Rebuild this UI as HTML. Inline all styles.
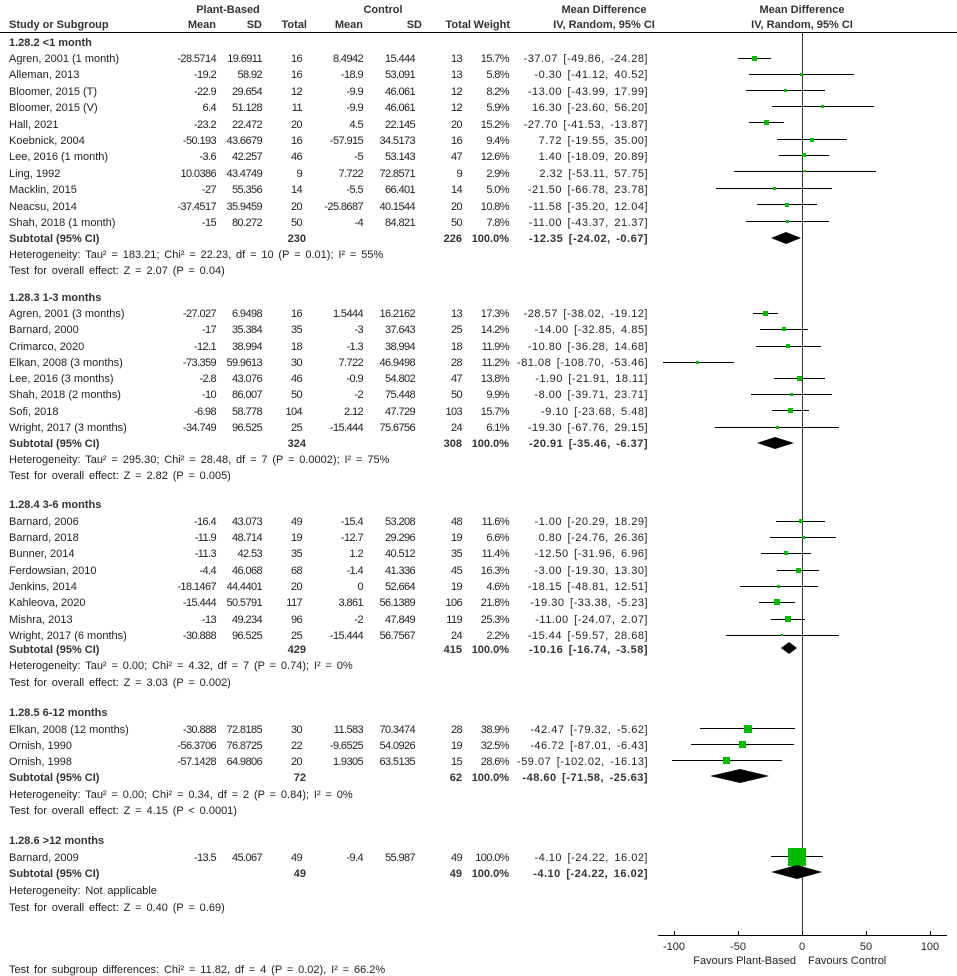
<!DOCTYPE html>
<html><head><meta charset="utf-8"><style>
html,body{margin:0;padding:0;background:#fff}
svg{display:block}
text{font-family:"Liberation Sans",Arial,sans-serif;font-size:11px;fill:#222}
.b{font-weight:bold;fill:#333}
.e{text-anchor:end}
.m{text-anchor:middle}
.h{word-spacing:1.8px}
g.d text.e{font-size:11px;letter-spacing:-0.6px}
g.d text.c,.c{letter-spacing:0.5px;word-spacing:2px;font-size:11px}
.sq{fill:#00bb00}
.l{stroke:#000;stroke-width:1}
</style></head><body>
<svg width="957" height="976" viewBox="0 0 957 976" xmlns="http://www.w3.org/2000/svg">
<text class="b m" x="228" y="13">Plant-Based</text>
<text class="b m" x="383" y="13">Control</text>
<text class="b m" x="604" y="13">Mean Difference</text>
<text class="b m" x="802" y="13">Mean Difference</text>
<text class="b" x="9" y="28">Study or Subgroup</text>
<text class="b e" x="216" y="28">Mean</text>
<text class="b e" x="262" y="28">SD</text>
<text class="b e" x="307" y="28">Total</text>
<text class="b e" x="363" y="28">Mean</text>
<text class="b e" x="422" y="28">SD</text>
<text class="b e" x="471" y="28">Total</text>
<text class="b e" x="510" y="28">Weight</text>
<text class="b m" x="604" y="28">IV, Random, 95% CI</text>
<text class="b m" x="802" y="28">IV, Random, 95% CI</text>
<line class="l" x1="0" y1="32.5" x2="957" y2="32.5"/>
<line x1="802.5" y1="32" x2="802.5" y2="935" stroke="#333" stroke-width="1"/>

<text class="b" x="9" y="46">1.28.2 &lt;1 month</text>
<g class="d">
<text x="9" y="62">Agren, 2001 (1 month)</text><text class="e" x="216" y="62">-28.5714</text><text class="e" x="262" y="62">19.6911</text><text class="e" x="302" y="62">16</text><text class="e" x="363" y="62">8.4942</text><text class="e" x="415" y="62">15.444</text><text class="e" x="462" y="62">13</text><text class="e" x="509" y="62">15.7%</text><text class="e c" x="648" y="62">-37.07 [-49.86, -24.28]</text>
<text x="9" y="78">Alleman, 2013</text><text class="e" x="216" y="78">-19.2</text><text class="e" x="262" y="78">58.92</text><text class="e" x="302" y="78">16</text><text class="e" x="363" y="78">-18.9</text><text class="e" x="415" y="78">53.091</text><text class="e" x="462" y="78">13</text><text class="e" x="509" y="78">5.8%</text><text class="e c" x="648" y="78">-0.30 [-41.12, 40.52]</text>
<text x="9" y="95">Bloomer, 2015 (T)</text><text class="e" x="216" y="95">-22.9</text><text class="e" x="262" y="95">29.654</text><text class="e" x="302" y="95">12</text><text class="e" x="363" y="95">-9.9</text><text class="e" x="415" y="95">46.061</text><text class="e" x="462" y="95">12</text><text class="e" x="509" y="95">8.2%</text><text class="e c" x="648" y="95">-13.00 [-43.99, 17.99]</text>
<text x="9" y="111">Bloomer, 2015 (V)</text><text class="e" x="216" y="111">6.4</text><text class="e" x="262" y="111">51.128</text><text class="e" x="302" y="111">11</text><text class="e" x="363" y="111">-9.9</text><text class="e" x="415" y="111">46.061</text><text class="e" x="462" y="111">12</text><text class="e" x="509" y="111">5.9%</text><text class="e c" x="648" y="111">16.30 [-23.60, 56.20]</text>
<text x="9" y="128">Hall, 2021</text><text class="e" x="216" y="128">-23.2</text><text class="e" x="262" y="128">22.472</text><text class="e" x="302" y="128">20</text><text class="e" x="363" y="128">4.5</text><text class="e" x="415" y="128">22.145</text><text class="e" x="462" y="128">20</text><text class="e" x="509" y="128">15.2%</text><text class="e c" x="648" y="128">-27.70 [-41.53, -13.87]</text>
<text x="9" y="144">Koebnick, 2004</text><text class="e" x="216" y="144">-50.193</text><text class="e" x="262" y="144">43.6679</text><text class="e" x="302" y="144">16</text><text class="e" x="363" y="144">-57.915</text><text class="e" x="415" y="144">34.5173</text><text class="e" x="462" y="144">16</text><text class="e" x="509" y="144">9.4%</text><text class="e c" x="648" y="144">7.72 [-19.55, 35.00]</text>
<text x="9" y="160">Lee, 2016 (1 month)</text><text class="e" x="216" y="160">-3.6</text><text class="e" x="262" y="160">42.257</text><text class="e" x="302" y="160">46</text><text class="e" x="363" y="160">-5</text><text class="e" x="415" y="160">53.143</text><text class="e" x="462" y="160">47</text><text class="e" x="509" y="160">12.6%</text><text class="e c" x="648" y="160">1.40 [-18.09, 20.89]</text>
<text x="9" y="177">Ling, 1992</text><text class="e" x="216" y="177">10.0386</text><text class="e" x="262" y="177">43.4749</text><text class="e" x="302" y="177">9</text><text class="e" x="363" y="177">7.722</text><text class="e" x="415" y="177">72.8571</text><text class="e" x="462" y="177">9</text><text class="e" x="509" y="177">2.9%</text><text class="e c" x="648" y="177">2.32 [-53.11, 57.75]</text>
<text x="9" y="193">Macklin, 2015</text><text class="e" x="216" y="193">-27</text><text class="e" x="262" y="193">55.356</text><text class="e" x="302" y="193">14</text><text class="e" x="363" y="193">-5.5</text><text class="e" x="415" y="193">66.401</text><text class="e" x="462" y="193">14</text><text class="e" x="509" y="193">5.0%</text><text class="e c" x="648" y="193">-21.50 [-66.78, 23.78]</text>
<text x="9" y="210">Neacsu, 2014</text><text class="e" x="216" y="210">-37.4517</text><text class="e" x="262" y="210">35.9459</text><text class="e" x="302" y="210">20</text><text class="e" x="363" y="210">-25.8687</text><text class="e" x="415" y="210">40.1544</text><text class="e" x="462" y="210">20</text><text class="e" x="509" y="210">10.8%</text><text class="e c" x="648" y="210">-11.58 [-35.20, 12.04]</text>
<text x="9" y="226">Shah, 2018 (1 month)</text><text class="e" x="216" y="226">-15</text><text class="e" x="262" y="226">80.272</text><text class="e" x="302" y="226">50</text><text class="e" x="363" y="226">-4</text><text class="e" x="415" y="226">84.821</text><text class="e" x="462" y="226">50</text><text class="e" x="509" y="226">7.8%</text><text class="e c" x="648" y="226">-11.00 [-43.37, 21.37]</text>
</g>
<text class="b" x="9" y="242">Subtotal (95% CI)</text><text class="b e" x="306" y="242">230</text><text class="b e" x="462" y="242">226</text><text class="b e" x="509" y="242">100.0%</text><text class="b e c" x="648" y="242">-12.35 [-24.02, -0.67]</text>
<text class="h" x="9" y="258">Heterogeneity: Tau² = 183.21; Chi² = 22.23, df = 10 (P = 0.01); I² = 55%</text>
<text class="h" x="9" y="274">Test for overall effect: Z = 2.07 (P = 0.04)</text>
<g>
<line class="l" x1="738" y1="58.5" x2="771" y2="58.5"/><rect class="sq" x="752" y="56" width="5" height="5"/>
<line class="l" x1="749" y1="74.5" x2="854" y2="74.5"/><rect class="sq" x="800" y="73" width="3" height="3"/>
<line class="l" x1="746" y1="90.5" x2="825" y2="90.5"/><rect class="sq" x="784" y="89" width="3" height="3"/>
<line class="l" x1="772" y1="106.5" x2="874" y2="106.5"/><rect class="sq" x="821" y="105" width="3" height="3"/>
<line class="l" x1="749" y1="122.5" x2="784" y2="122.5"/><rect class="sq" x="764" y="120" width="5" height="5"/>
<line class="l" x1="777" y1="139.5" x2="847" y2="139.5"/><rect class="sq" x="810" y="138" width="4" height="4"/>
<line class="l" x1="779" y1="155.5" x2="829" y2="155.5"/><rect class="sq" x="802" y="153" width="4" height="4"/>
<line class="l" x1="734" y1="171.5" x2="876" y2="171.5"/><rect class="sq" x="804" y="170" width="2" height="2"/>
<line class="l" x1="716" y1="188.5" x2="832" y2="188.5"/><rect class="sq" x="773" y="187" width="3" height="3"/>
<line class="l" x1="757" y1="204.5" x2="817" y2="204.5"/><rect class="sq" x="785" y="203" width="4" height="4"/>
<line class="l" x1="746" y1="221.5" x2="829" y2="221.5"/><rect class="sq" x="786" y="220" width="3" height="3"/>
<polygon points="771,238 786,232 801,238 786,244" fill="#000"/>
</g>

<text class="b" x="9" y="301">1.28.3 1-3 months</text>
<g class="d">
<text x="9" y="317">Agren, 2001 (3 months)</text><text class="e" x="216" y="317">-27.027</text><text class="e" x="262" y="317">6.9498</text><text class="e" x="302" y="317">16</text><text class="e" x="363" y="317">1.5444</text><text class="e" x="415" y="317">16.2162</text><text class="e" x="462" y="317">13</text><text class="e" x="509" y="317">17.3%</text><text class="e c" x="648" y="317">-28.57 [-38.02, -19.12]</text>
<text x="9" y="333">Barnard, 2000</text><text class="e" x="216" y="333">-17</text><text class="e" x="262" y="333">35.384</text><text class="e" x="302" y="333">35</text><text class="e" x="363" y="333">-3</text><text class="e" x="415" y="333">37.643</text><text class="e" x="462" y="333">25</text><text class="e" x="509" y="333">14.2%</text><text class="e c" x="648" y="333">-14.00 [-32.85, 4.85]</text>
<text x="9" y="350">Crimarco, 2020</text><text class="e" x="216" y="350">-12.1</text><text class="e" x="262" y="350">38.994</text><text class="e" x="302" y="350">18</text><text class="e" x="363" y="350">-1.3</text><text class="e" x="415" y="350">38.994</text><text class="e" x="462" y="350">18</text><text class="e" x="509" y="350">11.9%</text><text class="e c" x="648" y="350">-10.80 [-36.28, 14.68]</text>
<text x="9" y="366">Elkan, 2008 (3 months)</text><text class="e" x="216" y="366">-73.359</text><text class="e" x="262" y="366">59.9613</text><text class="e" x="302" y="366">30</text><text class="e" x="363" y="366">7.722</text><text class="e" x="415" y="366">46.9498</text><text class="e" x="462" y="366">28</text><text class="e" x="509" y="366">11.2%</text><text class="e c" x="648" y="366">-81.08 [-108.70, -53.46]</text>
<text x="9" y="382">Lee, 2016 (3 months)</text><text class="e" x="216" y="382">-2.8</text><text class="e" x="262" y="382">43.076</text><text class="e" x="302" y="382">46</text><text class="e" x="363" y="382">-0.9</text><text class="e" x="415" y="382">54.802</text><text class="e" x="462" y="382">47</text><text class="e" x="509" y="382">13.8%</text><text class="e c" x="648" y="382">-1.90 [-21.91, 18.11]</text>
<text x="9" y="398">Shah, 2018 (2 months)</text><text class="e" x="216" y="398">-10</text><text class="e" x="262" y="398">86.007</text><text class="e" x="302" y="398">50</text><text class="e" x="363" y="398">-2</text><text class="e" x="415" y="398">75.448</text><text class="e" x="462" y="398">50</text><text class="e" x="509" y="398">9.9%</text><text class="e c" x="648" y="398">-8.00 [-39.71, 23.71]</text>
<text x="9" y="415">Sofi, 2018</text><text class="e" x="216" y="415">-6.98</text><text class="e" x="262" y="415">58.778</text><text class="e" x="302" y="415">104</text><text class="e" x="363" y="415">2.12</text><text class="e" x="415" y="415">47.729</text><text class="e" x="462" y="415">103</text><text class="e" x="509" y="415">15.7%</text><text class="e c" x="648" y="415">-9.10 [-23.68, 5.48]</text>
<text x="9" y="431">Wright, 2017 (3 months)</text><text class="e" x="216" y="431">-34.749</text><text class="e" x="262" y="431">96.525</text><text class="e" x="302" y="431">25</text><text class="e" x="363" y="431">-15.444</text><text class="e" x="415" y="431">75.6756</text><text class="e" x="462" y="431">24</text><text class="e" x="509" y="431">6.1%</text><text class="e c" x="648" y="431">-19.30 [-67.76, 29.15]</text>
</g>
<text class="b" x="9" y="447">Subtotal (95% CI)</text><text class="b e" x="306" y="447">324</text><text class="b e" x="462" y="447">308</text><text class="b e" x="509" y="447">100.0%</text><text class="b e c" x="648" y="447">-20.91 [-35.46, -6.37]</text>
<text class="h" x="9" y="463">Heterogeneity: Tau² = 295.30; Chi² = 28.48, df = 7 (P = 0.0002); I² = 75%</text>
<text class="h" x="9" y="479">Test for overall effect: Z = 2.82 (P = 0.005)</text>
<g>
<line class="l" x1="753" y1="313.5" x2="778" y2="313.5"/><rect class="sq" x="763" y="311" width="5" height="5"/>
<line class="l" x1="760" y1="329.5" x2="808" y2="329.5"/><rect class="sq" x="782" y="327" width="4" height="4"/>
<line class="l" x1="756" y1="346.5" x2="821" y2="346.5"/><rect class="sq" x="786" y="344" width="4" height="4"/>
<line class="l" x1="663" y1="362.5" x2="734" y2="362.5"/><rect class="sq" x="696" y="361" width="3" height="3"/>
<line class="l" x1="774" y1="378.5" x2="825" y2="378.5"/><rect class="sq" x="797" y="376" width="5" height="5"/>
<line class="l" x1="751" y1="394.5" x2="832" y2="394.5"/><rect class="sq" x="790" y="393" width="3" height="3"/>
<line class="l" x1="772" y1="410.5" x2="809" y2="410.5"/><rect class="sq" x="788" y="408" width="5" height="5"/>
<line class="l" x1="715" y1="427.5" x2="839" y2="427.5"/><rect class="sq" x="776" y="426" width="3" height="3"/>
<polygon points="757,443 775,437 794,443 775,449" fill="#000"/>
</g>

<text class="b" x="9" y="508">1.28.4 3-6 months</text>
<g class="d">
<text x="9" y="525">Barnard, 2006</text><text class="e" x="216" y="525">-16.4</text><text class="e" x="262" y="525">43.073</text><text class="e" x="302" y="525">49</text><text class="e" x="363" y="525">-15.4</text><text class="e" x="415" y="525">53.208</text><text class="e" x="462" y="525">48</text><text class="e" x="509" y="525">11.6%</text><text class="e c" x="648" y="525">-1.00 [-20.29, 18.29]</text>
<text x="9" y="541">Barnard, 2018</text><text class="e" x="216" y="541">-11.9</text><text class="e" x="262" y="541">48.714</text><text class="e" x="302" y="541">19</text><text class="e" x="363" y="541">-12.7</text><text class="e" x="415" y="541">29.296</text><text class="e" x="462" y="541">19</text><text class="e" x="509" y="541">6.6%</text><text class="e c" x="648" y="541">0.80 [-24.76, 26.36]</text>
<text x="9" y="557">Bunner, 2014</text><text class="e" x="216" y="557">-11.3</text><text class="e" x="262" y="557">42.53</text><text class="e" x="302" y="557">35</text><text class="e" x="363" y="557">1.2</text><text class="e" x="415" y="557">40.512</text><text class="e" x="462" y="557">35</text><text class="e" x="509" y="557">11.4%</text><text class="e c" x="648" y="557">-12.50 [-31.96, 6.96]</text>
<text x="9" y="574">Ferdowsian, 2010</text><text class="e" x="216" y="574">-4.4</text><text class="e" x="262" y="574">46.068</text><text class="e" x="302" y="574">68</text><text class="e" x="363" y="574">-1.4</text><text class="e" x="415" y="574">41.336</text><text class="e" x="462" y="574">45</text><text class="e" x="509" y="574">16.3%</text><text class="e c" x="648" y="574">-3.00 [-19.30, 13.30]</text>
<text x="9" y="590">Jenkins, 2014</text><text class="e" x="216" y="590">-18.1467</text><text class="e" x="262" y="590">44.4401</text><text class="e" x="302" y="590">20</text><text class="e" x="363" y="590">0</text><text class="e" x="415" y="590">52.664</text><text class="e" x="462" y="590">19</text><text class="e" x="509" y="590">4.6%</text><text class="e c" x="648" y="590">-18.15 [-48.81, 12.51]</text>
<text x="9" y="606">Kahleova, 2020</text><text class="e" x="216" y="606">-15.444</text><text class="e" x="262" y="606">50.5791</text><text class="e" x="302" y="606">117</text><text class="e" x="363" y="606">3.861</text><text class="e" x="415" y="606">56.1389</text><text class="e" x="462" y="606">106</text><text class="e" x="509" y="606">21.8%</text><text class="e c" x="648" y="606">-19.30 [-33.38, -5.23]</text>
<text x="9" y="623">Mishra, 2013</text><text class="e" x="216" y="623">-13</text><text class="e" x="262" y="623">49.234</text><text class="e" x="302" y="623">96</text><text class="e" x="363" y="623">-2</text><text class="e" x="415" y="623">47.849</text><text class="e" x="462" y="623">119</text><text class="e" x="509" y="623">25.3%</text><text class="e c" x="648" y="623">-11.00 [-24.07, 2.07]</text>
<text x="9" y="639">Wright, 2017 (6 months)</text><text class="e" x="216" y="639">-30.888</text><text class="e" x="262" y="639">96.525</text><text class="e" x="302" y="639">25</text><text class="e" x="363" y="639">-15.444</text><text class="e" x="415" y="639">56.7567</text><text class="e" x="462" y="639">24</text><text class="e" x="509" y="639">2.2%</text><text class="e c" x="648" y="639">-15.44 [-59.57, 28.68]</text>
</g>
<text class="b" x="9" y="653">Subtotal (95% CI)</text><text class="b e" x="306" y="653">429</text><text class="b e" x="462" y="653">415</text><text class="b e" x="509" y="653">100.0%</text><text class="b e c" x="648" y="653">-10.16 [-16.74, -3.58]</text>
<text class="h" x="9" y="669">Heterogeneity: Tau² = 0.00; Chi² = 4.32, df = 7 (P = 0.74); I² = 0%</text>
<text class="h" x="9" y="686">Test for overall effect: Z = 3.03 (P = 0.002)</text>
<g>
<line class="l" x1="776" y1="521.5" x2="825" y2="521.5"/><rect class="sq" x="799" y="519" width="4" height="4"/>
<line class="l" x1="770" y1="537.5" x2="836" y2="537.5"/><rect class="sq" x="802" y="536" width="3" height="3"/>
<line class="l" x1="761" y1="553.5" x2="811" y2="553.5"/><rect class="sq" x="784" y="551" width="4" height="4"/>
<line class="l" x1="777" y1="570.5" x2="819" y2="570.5"/><rect class="sq" x="796" y="568" width="5" height="5"/>
<line class="l" x1="740" y1="586.5" x2="818" y2="586.5"/><rect class="sq" x="777" y="585" width="3" height="3"/>
<line class="l" x1="759" y1="602.5" x2="795" y2="602.5"/><rect class="sq" x="774" y="599" width="6" height="6"/>
<line class="l" x1="771" y1="619.5" x2="805" y2="619.5"/><rect class="sq" x="785" y="616" width="6" height="6"/>
<line class="l" x1="726" y1="635.5" x2="839" y2="635.5"/><rect class="sq" x="781" y="634" width="2" height="2"/>
<polygon points="781,648 789,642 797,648 789,654" fill="#000"/>
</g>

<text class="b" x="9" y="716">1.28.5 6-12 months</text>
<g class="d">
<text x="9" y="733">Elkan, 2008 (12 months)</text><text class="e" x="216" y="733">-30.888</text><text class="e" x="262" y="733">72.8185</text><text class="e" x="302" y="733">30</text><text class="e" x="363" y="733">11.583</text><text class="e" x="415" y="733">70.3474</text><text class="e" x="462" y="733">28</text><text class="e" x="509" y="733">38.9%</text><text class="e c" x="648" y="733">-42.47 [-79.32, -5.62]</text>
<text x="9" y="749">Ornish, 1990</text><text class="e" x="216" y="749">-56.3706</text><text class="e" x="262" y="749">76.8725</text><text class="e" x="302" y="749">22</text><text class="e" x="363" y="749">-9.6525</text><text class="e" x="415" y="749">54.0926</text><text class="e" x="462" y="749">19</text><text class="e" x="509" y="749">32.5%</text><text class="e c" x="648" y="749">-46.72 [-87.01, -6.43]</text>
<text x="9" y="765">Ornish, 1998</text><text class="e" x="216" y="765">-57.1428</text><text class="e" x="262" y="765">64.9806</text><text class="e" x="302" y="765">20</text><text class="e" x="363" y="765">1.9305</text><text class="e" x="415" y="765">63.5135</text><text class="e" x="462" y="765">15</text><text class="e" x="509" y="765">28.6%</text><text class="e c" x="648" y="765">-59.07 [-102.02, -16.13]</text>
</g>
<text class="b" x="9" y="781">Subtotal (95% CI)</text><text class="b e" x="306" y="781">72</text><text class="b e" x="462" y="781">62</text><text class="b e" x="509" y="781">100.0%</text><text class="b e c" x="648" y="781">-48.60 [-71.58, -25.63]</text>
<text class="h" x="9" y="798">Heterogeneity: Tau² = 0.00; Chi² = 0.34, df = 2 (P = 0.84); I² = 0%</text>
<text class="h" x="9" y="814">Test for overall effect: Z = 4.15 (P &lt; 0.0001)</text>
<g>
<line class="l" x1="700" y1="728.5" x2="795" y2="728.5"/><rect class="sq" x="744" y="725" width="8" height="8"/>
<line class="l" x1="691" y1="744.5" x2="794" y2="744.5"/><rect class="sq" x="739" y="741" width="7" height="7"/>
<line class="l" x1="672" y1="760.5" x2="782" y2="760.5"/><rect class="sq" x="723" y="757" width="7" height="7"/>
<polygon points="710,776 740,769 769,776 740,783" fill="#000"/>
</g>

<text class="b" x="9" y="844">1.28.6 &gt;12 months</text>
<g class="d">
<text x="9" y="861">Barnard, 2009</text><text class="e" x="216" y="861">-13.5</text><text class="e" x="262" y="861">45.067</text><text class="e" x="302" y="861">49</text><text class="e" x="363" y="861">-9.4</text><text class="e" x="415" y="861">55.987</text><text class="e" x="462" y="861">49</text><text class="e" x="509" y="861">100.0%</text><text class="e c" x="648" y="861">-4.10 [-24.22, 16.02]</text>
</g>
<text class="b" x="9" y="877">Subtotal (95% CI)</text><text class="b e" x="306" y="877">49</text><text class="b e" x="462" y="877">49</text><text class="b e" x="509" y="877">100.0%</text><text class="b e c" x="648" y="877">-4.10 [-24.22, 16.02]</text>
<text class="h" x="9" y="894">Heterogeneity: Not applicable</text>
<text class="h" x="9" y="911">Test for overall effect: Z = 0.40 (P = 0.69)</text>
<line class="l" x1="771" y1="856.5" x2="823" y2="856.5"/><rect class="sq" x="788" y="848" width="18" height="18"/>
<polygon points="771,872 797,865 822,872 797,879" fill="#000"/>

<line class="l" x1="658" y1="935.5" x2="947" y2="935.5"/>
<line class="l" x1="674.5" y1="931" x2="674.5" y2="936"/>
<line class="l" x1="738.5" y1="931" x2="738.5" y2="936"/>
<line class="l" x1="802.5" y1="931" x2="802.5" y2="936"/>
<line class="l" x1="866.5" y1="931" x2="866.5" y2="936"/>
<line class="l" x1="930.5" y1="931" x2="930.5" y2="936"/>
<text class="m" x="674" y="950">-100</text>
<text class="m" x="738" y="950">-50</text>
<text class="m" x="802" y="950">0</text>
<text class="m" x="866" y="950">50</text>
<text class="m" x="930" y="950">100</text>
<text class="e" x="796" y="964">Favours Plant-Based</text>
<text x="808" y="964">Favours Control</text>

<text class="h" x="9" y="973">Test for subgroup differences: Chi² = 11.82, df = 4 (P = 0.02), I² = 66.2%</text>
</svg>
</body></html>
